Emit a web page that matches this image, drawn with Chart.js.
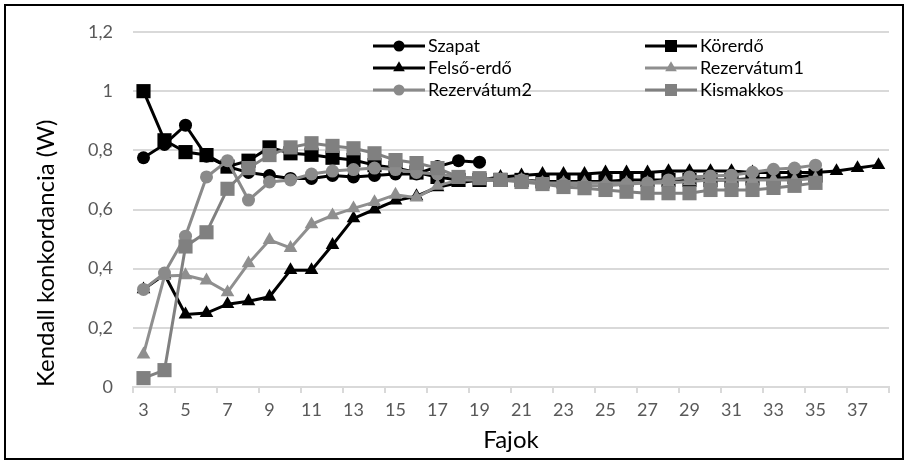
<!DOCTYPE html>
<html>
<head>
<meta charset="utf-8">
<script src="https://cdn.jsdelivr.net/npm/chart.js@4.4.0/dist/chart.umd.min.js"></script>
<style>
  html, body { margin: 0; padding: 0; background: #fff; }
  #wrap { position: relative; width: 908px; height: 464px; }
  #frame { position: absolute; left: 4px; top: 4px; width: 896px; height: 452px; border: 2px solid #000; pointer-events: none; }
  canvas { position: absolute; left: 0; top: 0; }
</style>
</head>
<body>
<div id="wrap">
  <canvas id="c" width="908" height="464"></canvas>
  <div id="frame"></div>
</div>
<script>
const categories = ['3','4','5','6','7','8','9','10','11','12','13','14','15','16','17','18','19','20','21','22','23','24','25','26','27','28','29','30','31','32','33','34','35','36','37','38'];
const yTicks = [0, 0.2, 0.4, 0.6, 0.8, 1, 1.2];

const szapat = [0.775, 0.82, 0.885, 0.78, 0.745, 0.725, 0.715, 0.705, 0.705, 0.715, 0.71, 0.715, 0.72, 0.72, 0.745, 0.765, 0.76];
const korerdo = [1.0, 0.834, 0.794, 0.784, 0.745, 0.765, 0.81, 0.79, 0.785, 0.775, 0.767, 0.75, 0.74, 0.725, 0.71, 0.70, 0.70, 0.70, 0.70, 0.695, 0.695, 0.695, 0.695, 0.70, 0.70, 0.70, 0.70, 0.70, 0.70, 0.705, 0.705, 0.71, 0.715];
const felsoErdo = [0.33, 0.38, 0.245, 0.25, 0.28, 0.29, 0.305, 0.395, 0.395, 0.48, 0.57, 0.60, 0.63, 0.645, 0.675, 0.69, 0.70, 0.71, 0.715, 0.72, 0.72, 0.72, 0.725, 0.725, 0.725, 0.73, 0.73, 0.73, 0.73, 0.725, 0.725, 0.725, 0.725, 0.73, 0.74, 0.75];
const rezervatum1 = [0.11, 0.375, 0.378, 0.36, 0.32, 0.418, 0.497, 0.47, 0.55, 0.58, 0.604, 0.625, 0.65, 0.64, 0.68, 0.70, 0.70, 0.70, 0.70, 0.69, 0.69, 0.69, 0.69, 0.69, 0.69, 0.69, 0.695, 0.70, 0.70, 0.70, 0.70, 0.70, 0.705];
const rezervatum2 = [0.33, 0.385, 0.51, 0.71, 0.765, 0.632, 0.693, 0.70, 0.72, 0.73, 0.735, 0.74, 0.735, 0.725, 0.72, 0.71, 0.705, 0.70, 0.70, 0.69, 0.685, 0.68, 0.68, 0.685, 0.69, 0.70, 0.71, 0.713, 0.716, 0.726, 0.736, 0.74, 0.75];
const kismakkos = [0.03, 0.057, 0.475, 0.523, 0.67, 0.74, 0.784, 0.81, 0.824, 0.815, 0.807, 0.79, 0.767, 0.757, 0.74, 0.71, 0.706, 0.70, 0.693, 0.686, 0.676, 0.672, 0.666, 0.66, 0.655, 0.655, 0.655, 0.666, 0.666, 0.666, 0.673, 0.68, 0.69];

const seriesNames = ['Szapat', 'Körerdő', 'Felső-erdő', 'Rezervátum1', 'Rezervátum2', 'Kismakkos'];
const seriesData = [szapat, korerdo, felsoErdo, rezervatum1, rezervatum2, kismakkos];
const seriesColors = ['#000000', '#000000', '#000000', '#8f8f8f', '#8a8a8a', '#808080'];
const seriesStyles = ['circle', 'rect', 'triangle', 'triangle', 'circle', 'rect'];
const styleRadius = { circle: 6.5, rect: 10, triangle: 7.9 };

const FONT = 'Lato, "Open Sans", "Noto Sans", sans-serif';

const datasets = seriesData.map((d, i) => ({
  label: seriesNames[i],
  data: d,
  borderColor: seriesColors[i],
  backgroundColor: seriesColors[i],
  borderWidth: 3,
  pointStyle: seriesStyles[i],
  pointRadius: styleRadius[seriesStyles[i]],
  pointBorderWidth: 0,
  pointBackgroundColor: seriesColors[i],
  tension: 0,
  fill: false,
  order: 6 - i
}));

function drawMarker(ctx, style, x, y, r, color) {
  ctx.save();
  ctx.fillStyle = color;
  ctx.beginPath();
  if (style === 'circle') {
    ctx.arc(x, y, r, 0, Math.PI * 2);
  } else if (style === 'rect') {
    const s = r * Math.SQRT1_2;
    ctx.rect(x - s, y - s, 2 * s, 2 * s);
  } else {
    const w = r * Math.sin(Math.PI * 2 / 3);
    ctx.moveTo(x, y - r);
    ctx.lineTo(x + w, y + r / 2);
    ctx.lineTo(x - w, y + r / 2);
    ctx.closePath();
  }
  ctx.fill();
  ctx.restore();
}

const legendPlugin = {
  id: 'insideLegend',
  afterDraw(chart) {
    const ctx = chart.ctx;
    const cols = [373, 645];
    const rows = [46, 68, 90];
    ctx.save();
    ctx.font = '18px ' + FONT;
    ctx.textBaseline = 'middle';
    ctx.textAlign = 'left';
    seriesNames.forEach((name, i) => {
      const x = cols[i % 2];
      const y = rows[Math.floor(i / 2)];
      ctx.strokeStyle = seriesColors[i];
      ctx.lineWidth = 3;
      ctx.beginPath();
      ctx.moveTo(x, y);
      ctx.lineTo(x + 52, y);
      ctx.stroke();
      drawMarker(ctx, seriesStyles[i], x + 26, y, styleRadius[seriesStyles[i]] * 0.85, seriesColors[i]);
      ctx.fillStyle = '#000';
      ctx.fillText(name, x + 55, y);
    });
    ctx.restore();
  }
};

new Chart(document.getElementById('c'), {
  type: 'line',
  data: { labels: categories, datasets },
  options: {
    responsive: false,
    animation: false,
    devicePixelRatio: 1,
    layout: { padding: { left: 0, right: 19, top: 32, bottom: 0 } },
    plugins: { legend: { display: false }, tooltip: { enabled: false } },
    scales: {
      x: {
        type: 'category',
        offset: true,
        grid: {
          display: true,
          offset: true,
          drawOnChartArea: false,
          drawTicks: true,
          tickLength: 6,
          lineWidth: 2,
          color: c => (c.index === undefined || c.index % 2 === 0) ? '#d9d9d9' : 'rgba(0,0,0,0)'
        },
        border: { display: true, color: '#d9d9d9', width: 2 },
        ticks: {
          autoSkip: false,
          maxRotation: 0,
          minRotation: 0,
          padding: 6,
          color: '#595959',
          font: { family: FONT, size: 18 },
          callback: function (v, i) { return i % 2 === 0 ? categories[i] : ''; }
        },
        title: {
          display: true,
          text: 'Fajok',
          color: '#000',
          font: { family: FONT, size: 24 },
          padding: { top: 0, bottom: 9 }
        },
        afterFit: s => { s.height = 77; }
      },
      y: {
        min: 0,
        max: 1.2,
        afterBuildTicks: s => { s.ticks = yTicks.map(v => ({ value: v })); },
        grid: { color: '#d9d9d9', lineWidth: 2, drawTicks: false },
        border: { display: false },
        ticks: {
          padding: 20,
          color: '#595959',
          font: { family: FONT, size: 18 },
          callback: v => String(Math.round(v * 10) / 10).replace('.', ',')
        },
        title: {
          display: true,
          text: 'Kendall konkordancia (W)',
          align: 'start',
          color: '#000',
          font: { family: FONT, size: 24 },
          padding: { top: 32, bottom: 0 }
        },
        afterFit: s => { s.width = 133; }
      }
    }
  },
  plugins: [legendPlugin]
});
</script>
</body>
</html>
